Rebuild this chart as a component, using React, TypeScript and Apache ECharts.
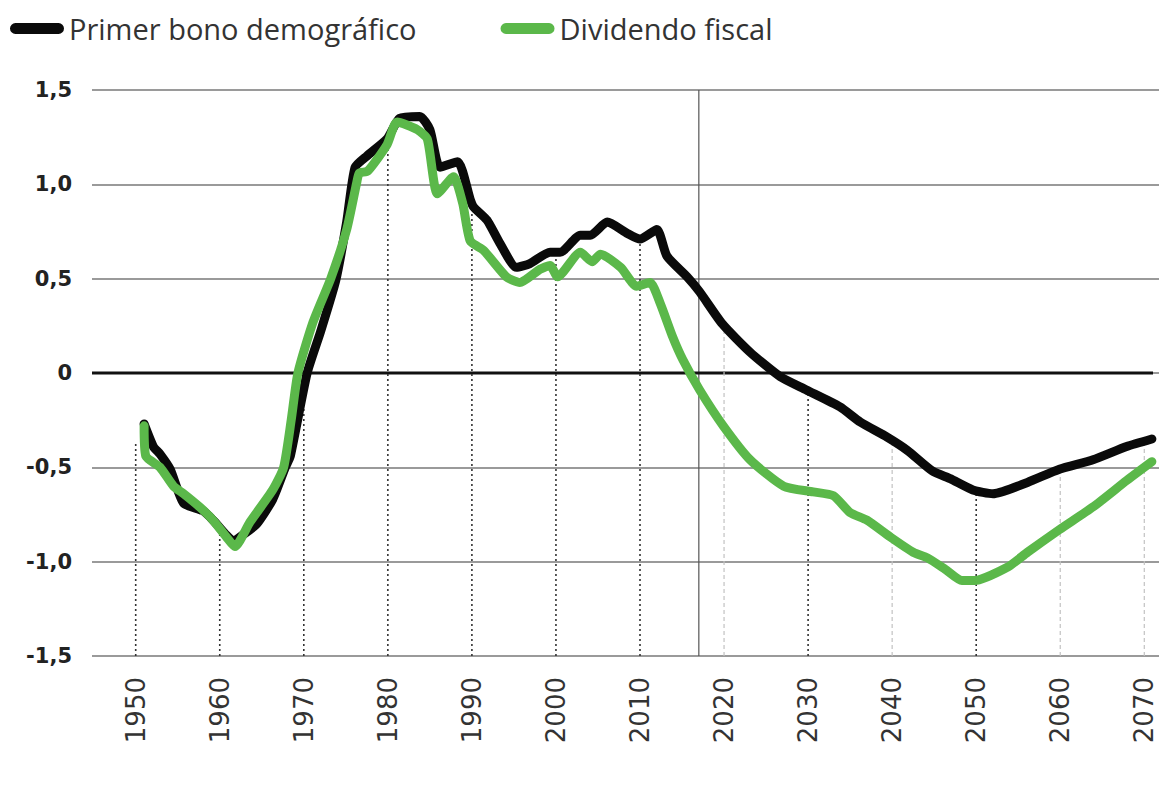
import React, { useEffect, useRef } from "react";
import * as echarts from "echarts";

// Primer bono demográfico (black)
const blackYears = [1951.0, 1952.1, 1952.9, 1954.1, 1955.7, 1958.0, 1959.2, 1960.8, 1961.6, 1963.0, 1964.4, 1966.3, 1967.8, 1968.4, 1970.4, 1972.0, 1973.8, 1975.1, 1976.1, 1977.5, 1979.9, 1981.4, 1983.8, 1985.0, 1986.2, 1988.3, 1989.8, 1990.2, 1991.8, 1993.3, 1995.3, 1996.9, 1999.3, 2000.5, 2002.9, 2004.1, 2006.1, 2008.5, 2010.0, 2012.0, 2013.2, 2015.6, 2017.1, 2019.8, 2023.1, 2026.7, 2029.8, 2033.8, 2036.2, 2039.4, 2041.8, 2044.8, 2046.9, 2049.6, 2052.0, 2056.1, 2059.9, 2063.9, 2067.9, 2070.9];
const blackValues = [-0.27, -0.39, -0.43, -0.51, -0.69, -0.73, -0.78, -0.86, -0.89, -0.85, -0.8, -0.67, -0.5, -0.44, 0, 0.22, 0.49, 0.8, 1.09, 1.15, 1.24, 1.35, 1.36, 1.29, 1.09, 1.12, 0.92, 0.88, 0.81, 0.69, 0.56, 0.58, 0.64, 0.64, 0.73, 0.73, 0.8, 0.74, 0.71, 0.76, 0.62, 0.51, 0.43, 0.26, 0.11, -0.02, -0.09, -0.18, -0.26, -0.34, -0.41, -0.52, -0.56, -0.62, -0.64, -0.58, -0.51, -0.46, -0.39, -0.35];

// Dividendo fiscal (green)
const greenYears = [1951.0, 1951.2, 1952.9, 1954.5, 1955.7, 1957.6, 1959.2, 1960.8, 1961.8, 1963.6, 1966.3, 1967.6, 1968.5, 1969.3, 1971.1, 1973.2, 1975.1, 1976.3, 1976.6, 1977.6, 1979.9, 1981.1, 1983.5, 1984.7, 1985.9, 1987.8, 1988.9, 1989.8, 1991.4, 1994.1, 1995.7, 1998.1, 1999.3, 2000.2, 2002.9, 2004.3, 2005.3, 2007.7, 2009.6, 2011.2, 2012.4, 2013.9, 2015.1, 2017.1, 2019.9, 2023.1, 2027.1, 2030.6, 2033.0, 2035.0, 2037.0, 2039.8, 2042.5, 2044.2, 2046.3, 2048.3, 2049.8, 2053.7, 2056.1, 2059.9, 2063.9, 2067.9, 2070.9];
const greenValues = [-0.28, -0.44, -0.5, -0.6, -0.64, -0.71, -0.78, -0.87, -0.92, -0.79, -0.62, -0.5, -0.25, 0, 0.27, 0.5, 0.76, 1.01, 1.06, 1.07, 1.21, 1.33, 1.29, 1.24, 0.95, 1.04, 0.9, 0.7, 0.65, 0.51, 0.48, 0.55, 0.57, 0.51, 0.64, 0.59, 0.63, 0.56, 0.46, 0.48, 0.37, 0.19, 0.07, -0.09, -0.28, -0.46, -0.6, -0.63, -0.65, -0.74, -0.78, -0.87, -0.95, -0.98, -1.04, -1.1, -1.1, -1.03, -0.95, -0.83, -0.71, -0.57, -0.47];

const seriesNames = ["Primer bono demográfico", "Dividendo fiscal"];
const xTickLabels = [1950, 1960, 1970, 1980, 1990, 2000, 2010, 2020, 2030, 2040, 2050, 2060, 2070];
const dropStyles = ["dark", "dark", "dark", "dark", "dark", "dark", "dark", "light", "dark", "light", "dark", "light", "light"];
const todayYear = 2017;

const Y_MIN = -1.5;
const Y_MAX = 1.5;

function interpBlack(year: number): number {
  if (year <= blackYears[0]) return blackValues[0] - 0.1;
  for (let i = 1; i < blackYears.length; i++) {
    if (year <= blackYears[i]) {
      const t = (year - blackYears[i - 1]) / (blackYears[i] - blackYears[i - 1]);
      return blackValues[i - 1] + t * (blackValues[i] - blackValues[i - 1]);
    }
  }
  return blackValues[blackValues.length - 1];
}

export default function App() {
  const ref = useRef<HTMLDivElement>(null);
  useEffect(() => {
    if (!ref.current) return;
    const chart = echarts.init(ref.current, null, { renderer: "svg" });
    const dropData = xTickLabels.map((y) => [y, interpBlack(y)]);
    chart.setOption({
      animation: false,
      backgroundColor: "#ffffff",
      legend: {
        data: seriesNames,
        left: 10,
        top: 14,
        padding: 0,
        itemGap: 84,
        itemWidth: 54,
        itemHeight: 11,
        icon: "path://M5,0L45,0A5,5,0,0,1,45,10L5,10A5,5,0,0,1,5,0Z",
        textStyle: { fontFamily: "Open Sans", fontSize: 29, color: "#333" },
      },
      grid: { left: 92, right: 0, top: 90, bottom: 133, outerBoundsMode: "none" },
      xAxis: {
        type: "value",
        min: 1944.8,
        max: 2071.75,
        axisLine: { show: false },
        axisTick: { show: false },
        splitLine: { show: false },
        axisLabel: {
          customValues: xTickLabels,
          rotate: 90,
          margin: 21,
          fontFamily: "DejaVu Sans",
          fontSize: 26,
          color: "#333",
          formatter: (v: number) => String(Math.round(v)),
        },
      },
      yAxis: {
        type: "value",
        min: Y_MIN,
        max: Y_MAX,
        interval: 0.5,
        axisLine: { show: false },
        axisTick: { show: false },
        splitLine: { show: true, lineStyle: { color: "#9a9a9a", width: 2 } },
        axisLabel: {
          margin: 20,
          fontFamily: "DejaVu Sans",
          fontWeight: "bold",
          fontSize: 21,
          color: "#222",
          formatter: (v: number) => (Math.abs(v) < 1e-9 ? "0" : v.toFixed(1).replace(".", ",")),
        },
      },
      series: [
        {
          type: "custom",
          silent: true,
          z: 1,
          data: [[todayYear, 0]],
          renderItem: (params: any, api: any) => {
            const cs = params.coordSys;
            const z0 = api.coord([todayYear, 0]);
            const pTop = api.coord([todayYear, Y_MAX]);
            const pBot = api.coord([todayYear, Y_MIN]);
            return {
              type: "group",
              children: [
                {
                  type: "line",
                  shape: { x1: pTop[0], y1: pTop[1], x2: pBot[0], y2: pBot[1] },
                  style: { stroke: "#555", lineWidth: 1.2 },
                },
                {
                  type: "line",
                  shape: { x1: cs.x, y1: z0[1], x2: cs.x + cs.width - 6, y2: z0[1] },
                  style: { stroke: "#111", lineWidth: 3 },
                },
              ],
            };
          },
        },
        {
          type: "custom",
          silent: true,
          z: 1,
          data: dropData,
          renderItem: (params: any, api: any) => {
            const x = api.value(0);
            const top = api.value(1);
            const p1 = api.coord([x, Y_MIN]);
            const p2 = api.coord([x, top]);
            const dark = dropStyles[params.dataIndex] === "dark";
            return {
              type: "line",
              shape: { x1: p1[0], y1: p1[1], x2: p2[0], y2: p2[1] },
              style: {
                stroke: dark ? "#333" : "#c2c2c2",
                lineWidth: dark ? 1.6 : 1.2,
                lineDash: dark ? [2, 3] : [4, 3],
              },
            };
          },
        },
        {
          name: seriesNames[0],
          type: "line",
          z: 3,
          data: blackYears.map((y, i) => [y, blackValues[i]]),
          showSymbol: false,
          smooth: 0.2,
          itemStyle: { color: "#0a0a0a" },
          lineStyle: { color: "#0a0a0a", width: 9, cap: "round", join: "round" },
        },
        {
          name: seriesNames[1],
          type: "line",
          z: 4,
          data: greenYears.map((y, i) => [y, greenValues[i]]),
          showSymbol: false,
          smooth: 0.2,
          itemStyle: { color: "#5bb84a" },
          lineStyle: { color: "#5bb84a", width: 9, cap: "round", join: "round" },
        },
      ],
    });
    return () => chart.dispose();
  }, []);
  return (
    <div
      ref={ref}
      style={{ position: "fixed", left: 0, top: 0, width: 1159, height: 789, background: "#fff" }}
    />
  );
}
